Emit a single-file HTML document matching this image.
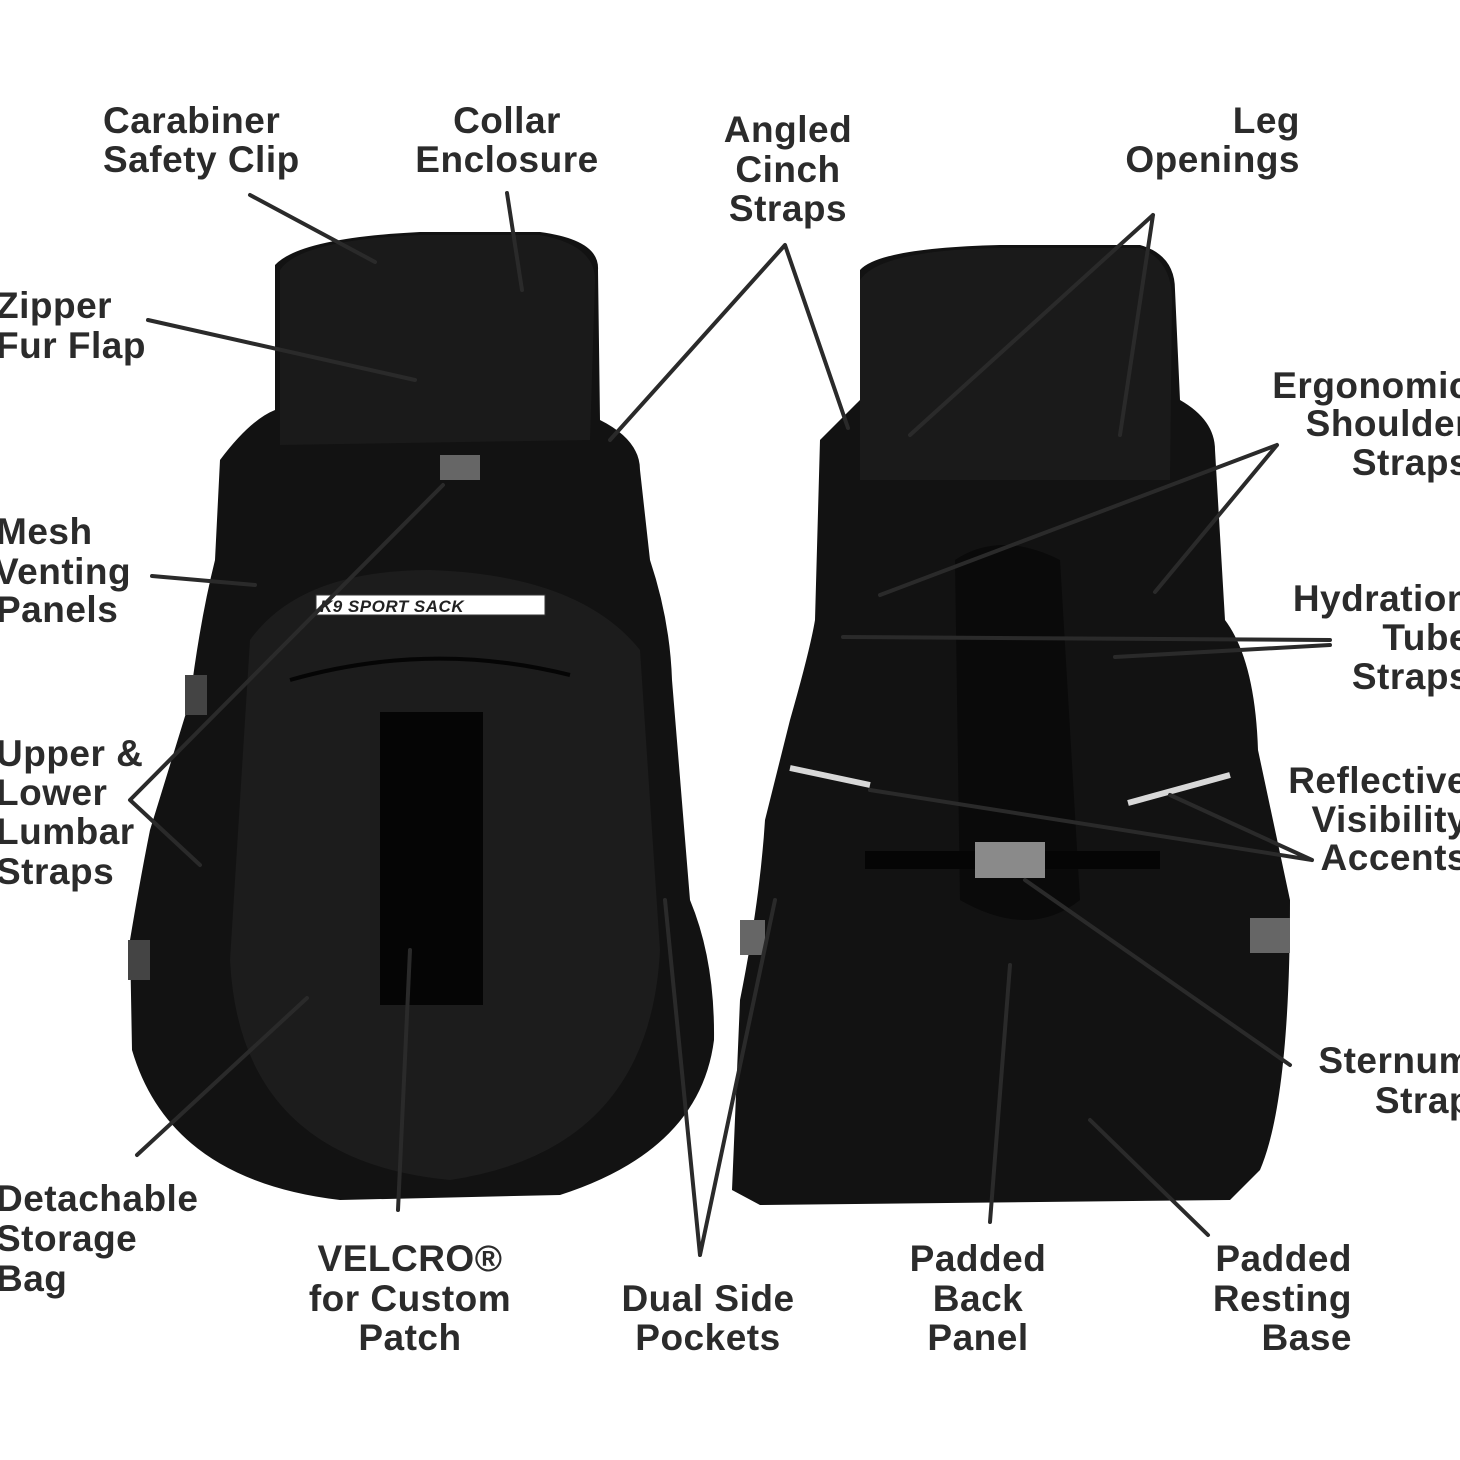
<!DOCTYPE html>
<html><head><meta charset="utf-8"><style>
html,body{margin:0;padding:0;background:#fff;}
svg{display:block}
text{font-family:"Liberation Sans",sans-serif;font-size:37px;fill:#2b2b2b;font-weight:bold;letter-spacing:0.5px}
</style></head><body>
<svg width="1460" height="1460" viewBox="0 0 1460 1460" xmlns="http://www.w3.org/2000/svg">
<rect width="1460" height="1460" fill="#fff"/>
<!-- Left backpack -->
<path d="M275 265 Q300 238 420 232 L540 232 Q600 240 598 270 L600 420 Q640 440 640 470 L650 560 Q670 620 672 680 L690 900 Q715 960 714 1040 Q700 1150 560 1195 L340 1200 Q170 1180 132 1050 L130 940 Q140 880 150 830 L190 700 Q200 620 215 560 L220 460 Q250 420 275 410 Z" fill="#121212"/>
<path d="M280 270 Q300 240 420 235 L540 235 Q595 245 595 280 L590 440 L280 445 Z" fill="#1a1a1a"/>
<path d="M250 640 Q300 570 430 570 Q580 575 640 650 L660 950 Q650 1150 450 1180 Q240 1160 230 960 Z" fill="#1c1c1c"/>
<rect x="316" y="595" width="229" height="20" fill="#fff" stroke="#333"/>
<text x="320" y="612" style="font-size:17px;fill:#222;font-style:italic">K9 SPORT SACK</text>
<rect x="380" y="712" width="103" height="293" fill="#050505"/>
<path d="M290 680 Q430 640 570 675" stroke="#050505" stroke-width="4" fill="none"/>
<rect x="440" y="455" width="40" height="25" fill="#666"/>
<rect x="185" y="675" width="22" height="40" fill="#444"/>
<rect x="128" y="940" width="22" height="40" fill="#444"/>
<!-- Right backpack -->
<path d="M860 270 Q880 248 1000 245 L1140 245 Q1175 255 1175 290 L1180 400 Q1215 420 1215 450 L1225 620 Q1255 660 1258 750 L1290 900 Q1290 1100 1260 1170 L1230 1200 L760 1205 L732 1190 L740 1000 Q760 900 765 820 L790 720 Q810 650 815 620 L820 440 Q850 410 860 400 Z" fill="#121212"/>
<path d="M860 280 Q880 250 1000 248 L1140 248 Q1172 260 1172 300 L1170 480 L860 480 Z" fill="#1a1a1a"/>
<path d="M955 560 Q1000 530 1060 560 L1080 900 Q1030 940 960 900 Z" fill="#0a0a0a"/>
<path d="M790 768 L870 785" stroke="#d8d8d8" stroke-width="6"/>
<path d="M1128 803 L1230 775" stroke="#d8d8d8" stroke-width="6"/>
<path d="M865 860 L1160 860" stroke="#050505" stroke-width="18"/>
<rect x="975" y="842" width="70" height="36" fill="#8a8a8a"/>
<rect x="740" y="920" width="25" height="35" fill="#666"/>
<rect x="1250" y="918" width="40" height="35" fill="#666"/>
<!-- Lines -->
<g stroke="#2a2a2a" stroke-width="4" stroke-linecap="round" fill="none">
<path d="M250 195 L375 262"/>
<path d="M507 193 L522 290"/>
<path d="M785 245 L610 440 M785 245 L848 428"/>
<path d="M1153 215 L910 435 M1153 215 L1120 435"/>
<path d="M148 320 L415 380"/>
<path d="M1277 445 L880 595 M1277 445 L1155 592"/>
<path d="M152 576 L255 585"/>
<path d="M1330 640 L843 637 M1330 645 L1115 657"/>
<path d="M130 800 L443 485 M130 800 L200 865"/>
<path d="M1312 860 L870 790 M1312 860 L1170 795"/>
<path d="M1290 1065 L1025 880"/>
<path d="M137 1155 L307 998"/>
<path d="M398 1210 L410 950"/>
<path d="M700 1255 L665 900 M700 1255 L775 900"/>
<path d="M990 1222 L1010 965"/>
<path d="M1208 1235 L1090 1120"/>
</g>
<!-- Labels -->
<text x="103" y="133">Carabiner</text><text x="103" y="172">Safety Clip</text>
<g text-anchor="middle">
<text x="507" y="133">Collar</text><text x="507" y="172">Enclosure</text>
<text x="788" y="142">Angled</text><text x="788" y="182">Cinch</text><text x="788" y="221">Straps</text>
<text x="410" y="1271">VELCRO®</text><text x="410" y="1311">for Custom</text><text x="410" y="1350">Patch</text>
<text x="708" y="1311">Dual Side</text><text x="708" y="1350">Pockets</text>
<text x="978" y="1271">Padded</text><text x="978" y="1311">Back</text><text x="978" y="1350">Panel</text>
</g>
<g text-anchor="end">
<text x="1300" y="133">Leg</text><text x="1300" y="172">Openings</text>
<text x="1470" y="398">Ergonomic</text><text x="1470" y="436">Shoulder</text><text x="1470" y="475">Straps</text>
<text x="1470" y="611">Hydration</text><text x="1470" y="650">Tube</text><text x="1470" y="689">Straps</text>
<text x="1468" y="793">Reflective</text><text x="1468" y="832">Visibility</text><text x="1468" y="870">Accents</text>
<text x="1472" y="1073">Sternum</text><text x="1472" y="1113">Strap</text>
<text x="1352" y="1271">Padded</text><text x="1352" y="1311">Resting</text><text x="1352" y="1350">Base</text>
</g>
<text x="-4" y="318">Zipper</text><text x="-4" y="358">Fur Flap</text>
<text x="-4" y="544">Mesh</text><text x="-6" y="584">Venting</text><text x="-4" y="622">Panels</text>
<text x="-4" y="766">Upper &amp;</text><text x="-4" y="805">Lower</text><text x="-4" y="844">Lumbar</text><text x="-4" y="884">Straps</text>
<text x="-4" y="1211">Detachable</text><text x="-4" y="1251">Storage</text><text x="-4" y="1291">Bag</text>
</svg>
</body></html>
